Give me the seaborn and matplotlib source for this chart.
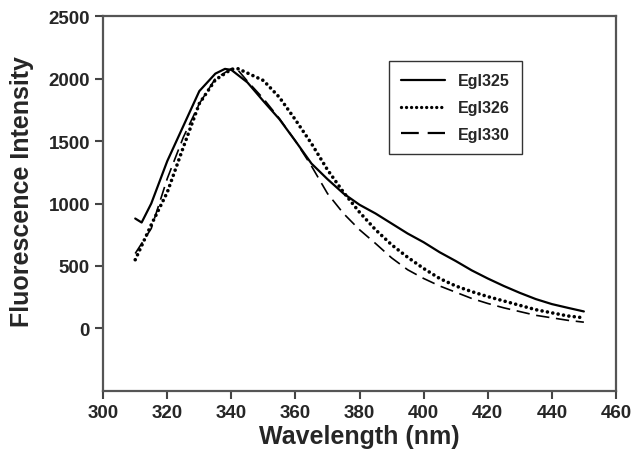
import numpy as np
import pandas as pd
import matplotlib
matplotlib.use('Agg')
import matplotlib.pyplot as plt
import seaborn as sns

# emission spectra
wl_325 = [310, 312, 315, 320, 325, 330, 335, 338, 340, 345, 350, 355, 360, 365, 370, 375,
          380, 385, 390, 395, 400, 405, 410, 415, 420, 425, 430, 435, 440, 445, 450]
egl325 = [880, 848, 1000, 1340, 1620, 1900, 2040, 2078, 2070, 1970, 1820, 1675, 1500, 1320, 1195, 1080,
          990, 920, 840, 760, 690, 610, 540, 465, 400, 340, 285, 235, 195, 165, 136]

wl = [310, 315, 320, 325, 330, 335, 340, 342, 345, 350, 355, 360, 365, 370, 375,
      380, 385, 390, 395, 400, 405, 410, 415, 420, 425, 430, 435, 440, 445, 450]
egl326 = [550, 830, 1090, 1450, 1800, 1990, 2075, 2080, 2045, 1985, 1850, 1670, 1480, 1270, 1090,
          930, 790, 670, 570, 480, 400, 340, 295, 255, 220, 185, 150, 125, 100, 85]
egl330 = [600, 800, 1200, 1530, 1800, 2000, 2080, 2070, 1980, 1840, 1680, 1500, 1300, 1080, 920,
          790, 680, 565, 470, 400, 340, 290, 240, 200, 165, 135, 105, 85, 65, 50]

sns.set_style('ticks')
plt.rcParams['font.family'] = ['Liberation Sans', 'DejaVu Sans']
plt.rcParams['font.weight'] = 'bold'

fig = plt.figure(figsize=(6.33, 4.52), dpi=100)
ax = fig.add_axes([0.163, 0.133, 0.81, 0.829])

sns.lineplot(x=wl_325, y=egl325, ax=ax, color='black', lw=1.6, label='Egl325')
sns.lineplot(x=wl, y=egl326, ax=ax, color='black', lw=2.6, label='Egl326')
sns.lineplot(x=wl, y=egl330, ax=ax, color='black', lw=1.2, label='Egl330')
ax.lines[1].set_linestyle((0, (0.01, 1.5)))
ax.lines[1].set_dash_capstyle('round')
ax.lines[2].set_linestyle((0, (8, 4)))

ax.set_xlim(300, 460)
ax.set_ylim(-500, 2500)
ax.set_xticks(np.arange(300, 461, 20))
ax.set_yticks(np.arange(0, 2501, 500))
ax.xaxis.set_ticks_position('bottom')
ax.yaxis.set_ticks_position('left')
ax.tick_params(which='major', direction='out', length=6, width=1.5,
               color='#444444', labelsize=13.5)
for lab in ax.get_xticklabels() + ax.get_yticklabels():
    lab.set_fontweight('bold')
for s in ax.spines.values():
    s.set_visible(True)
    s.set_color('#555555')
    s.set_linewidth(1.6)

ax.set_xlabel('Wavelength (nm)', fontsize=18, fontweight='bold', labelpad=2)
ax.set_ylabel('Fluorescence Intensity', fontsize=18, fontweight='bold')
ax.yaxis.set_label_coords(-0.135, 0.535)

leg = ax.legend(loc='upper left', bbox_to_anchor=(0.557, 0.88), frameon=True, fancybox=False,
                prop={'weight': 'bold', 'size': 11.5}, handlelength=2.8, labelspacing=0.75,
                borderpad=0.75, handletextpad=0.8, borderaxespad=0)
leg.get_frame().set_edgecolor('black')
leg.get_frame().set_linewidth(1.0)
for h in leg.get_lines():
    h.set_linewidth(1.6)
leg.get_lines()[1].set_linewidth(2.4)

fig.savefig('out.png', dpi=100)
